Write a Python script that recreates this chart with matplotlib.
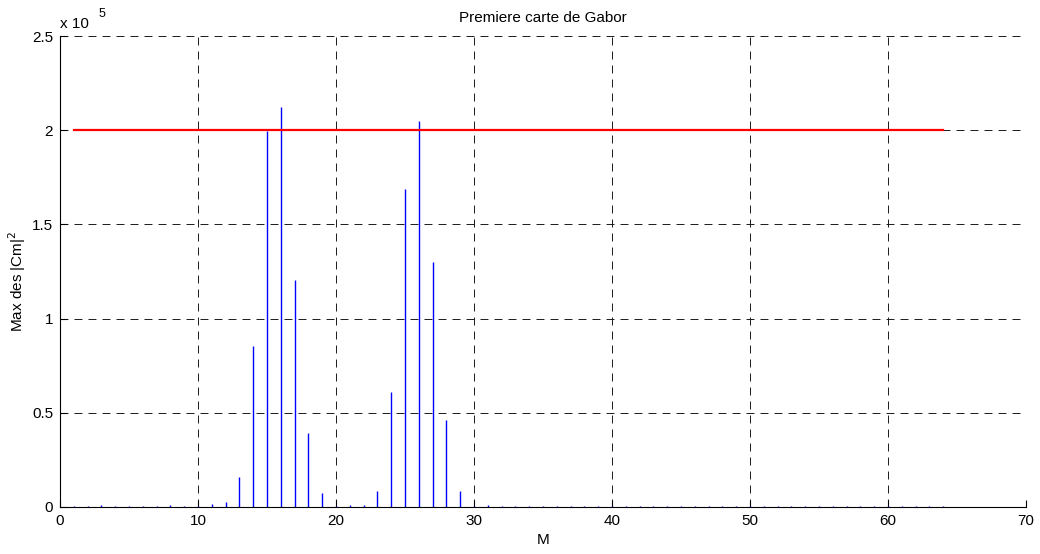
import matplotlib
matplotlib.use("Agg")
import matplotlib.pyplot as plt
from matplotlib.ticker import FuncFormatter

plt.rcParams['font.family'] = ['Liberation Sans', 'DejaVu Sans']

# Max of |Cm|^2 for each Gabor index M
M = list(range(1, 65))
cm_max = [
    300, 300, 900, 300, 700, 600, 500, 1300, 500, 500,
    1400, 2500, 16000, 85500, 199500, 212500, 120500, 39300, 7300, 600,
    1100, 800, 8500, 61000, 168800, 205000, 130000, 46200, 8500, 400,
    1200, 600, 500, 400, 500, 500, 400, 500, 400, 400,
    700, 400, 300, 400, 300, 300, 400, 300, 300, 300,
    400, 300, 300, 300, 300, 300, 300, 300, 300, 300,
    300, 300, 300, 300,
]
threshold = 2.0e5

x_ticks = [0, 10, 20, 30, 40, 50, 60, 70]
y_ticks = [0, 0.5e5, 1.0e5, 1.5e5, 2.0e5, 2.5e5]

fig = plt.figure(figsize=(10.4, 5.54), dpi=100)
ax = fig.add_axes([60 / 1040, 1 - 507 / 554, 966 / 1040, 471 / 554])

ax.vlines(M, 0, cm_max, colors='#0000ff', linewidth=1.0, zorder=3)
ax.plot([M[0], M[-1]], [threshold, threshold], color='#ff0000', linewidth=1.6, zorder=4)

ax.set_xlim(0, 70)
ax.set_ylim(0, 2.5e5)
ax.set_xticks(x_ticks)
ax.set_yticks(y_ticks)
ax.yaxis.set_major_formatter(FuncFormatter(lambda v, p: f"{v / 1e5:g}"))

ax.grid(True, color='#1a1a1a', linestyle=(0, (8.2, 6.2)), linewidth=0.7, zorder=1)
ax.set_axisbelow(True)
for side in ('top', 'right'):
    ax.spines[side].set_visible(False)
for side in ('left', 'bottom'):
    ax.spines[side].set_linewidth(0.8)
    ax.spines[side].set_zorder(5)

ax.tick_params(direction='in', length=5, width=0.8, labelsize=11, pad=5)

ax.set_title('Premiere carte de Gabor', fontsize=11, pad=10)
ax.set_xlabel('M', fontsize=11, labelpad=4)
ax.set_ylabel(r'Max des |Cm|$^2$', fontsize=11)
ax.yaxis.set_label_coords(-0.033, 0.48)

ax.text(0.0, 1.017, 'x 10', transform=ax.transAxes, fontsize=11, ha='left', va='baseline')
ax.text(0.040, 1.040, '5', transform=ax.transAxes, fontsize=9, ha='left', va='baseline')

fig.savefig('out.png', dpi=100)
